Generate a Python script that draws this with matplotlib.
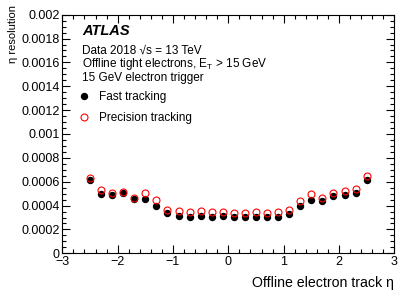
import matplotlib
matplotlib.use("Agg")
import matplotlib.pyplot as plt
from matplotlib.ticker import MultipleLocator, FuncFormatter
import numpy as np

plt.rcParams['font.family'] = ['Liberation Sans', 'DejaVu Sans']
plt.rcParams['mathtext.fontset'] = 'custom'
plt.rcParams['mathtext.rm'] = 'Liberation Sans'
plt.rcParams['mathtext.it'] = 'Liberation Sans:italic'

eta = [-2.5, -2.3, -2.1, -1.9, -1.7, -1.5, -1.3, -1.1, -0.9, -0.7, -0.5, -0.3, -0.1,
       0.1, 0.3, 0.5, 0.7, 0.9, 1.1, 1.3, 1.5, 1.7, 1.9, 2.1, 2.3, 2.5]
fast = [0.000614, 0.000500, 0.000489, 0.000503, 0.000453, 0.000453, 0.000399, 0.000335,
        0.000313, 0.000307, 0.000313, 0.000307, 0.000313,
        0.000304, 0.000302, 0.000302, 0.000302, 0.000307, 0.000332, 0.000396,
        0.000447, 0.000441, 0.000480, 0.000486, 0.000505, 0.000614]
precision = [0.000634, 0.000531, 0.000508, 0.000516, 0.000466, 0.000505, 0.000447, 0.000363,
             0.000355, 0.000346, 0.000357, 0.000344, 0.000342,
             0.000335, 0.000340, 0.000344, 0.000338, 0.000344, 0.000360, 0.000438,
             0.000500, 0.000464, 0.000503, 0.000520, 0.000539, 0.000648]

W, H = 415, 298
fig = plt.figure(figsize=(W / 100, H / 100), dpi=100)
left, right, top, bottom = 62.3, 394.3, 14.7, 253.3
ax = fig.add_axes([left / W, (H - bottom) / H, (right - left) / W, (bottom - top) / H])

ax.plot(eta, fast, linestyle='none', marker='o', markersize=4.3, color='black',
        label='Fast tracking')
ax.plot(eta, precision, linestyle='none', marker='o', markersize=5.0, markerfacecolor='none',
        markeredgecolor='#ff0000', markeredgewidth=0.8, label='Precision tracking')

ax.set_xlim(-3, 3)
ax.set_ylim(0, 0.002)
ax.xaxis.set_major_locator(MultipleLocator(1))
ax.xaxis.set_minor_locator(MultipleLocator(0.2))
ax.yaxis.set_major_locator(MultipleLocator(0.0002))
ax.yaxis.set_minor_locator(MultipleLocator(0.00005))
ax.yaxis.set_major_formatter(FuncFormatter(lambda v, p: '%g' % round(v, 6)))
ax.tick_params(which='both', direction='in', top=True, right=True, labelsize=9,
               width=0.8, colors='black')
ax.tick_params(which='major', length=6)
ax.tick_params(which='minor', length=3.2)
ax.tick_params(axis='x', pad=2)
ax.tick_params(axis='y', pad=2)
for s in ax.spines.values():
    s.set_linewidth(0.8)

ax.set_xlabel('Offline electron track η', fontsize=10.2, loc='right', labelpad=6)
fig.text(13 / W, 1 - 5 / H, 'η resolution', fontsize=8, rotation=90, ha='center', va='top')

fig.text(82.3 / W, 1 - 35 / H, 'ATLAS', fontsize=10.5, fontweight='bold', style='italic',
         va='baseline')
fig.text(82.3 / W, 1 - 53.3 / H, 'Data 2018 √s = 13 TeV', fontsize=8.5, va='baseline')
fig.text(82.3 / W, 1 - 66.7 / H, 'Offline tight electrons, E$_{\\mathrm{T}}$ > 15 GeV',
         fontsize=8.5, va='baseline')
fig.text(82.3 / W, 1 - 80.7 / H, '15 GeV electron trigger', fontsize=8.5, va='baseline')

leg = ax.legend(loc='upper left', bbox_to_anchor=(78 / W, 1 - 91 / H),
                bbox_transform=fig.transFigure, frameon=False, fontsize=8.5,
                handlelength=1.0, handletextpad=0.8, labelspacing=0.75, borderpad=0,
                borderaxespad=0)

fig.savefig('out.png', dpi=100)
